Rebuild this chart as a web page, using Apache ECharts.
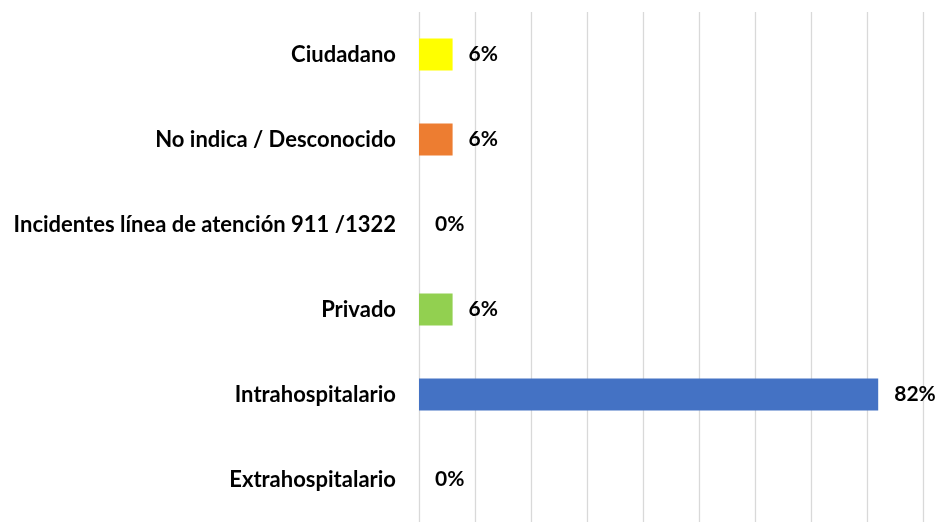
<!DOCTYPE html>
<html>
<head>
<meta charset="utf-8">
<script src="https://cdn.jsdelivr.net/npm/echarts@6/dist/echarts.min.js"></script>
<style>
html,body{margin:0;padding:0;background:#fff;}
#chart{width:940px;height:522px;}
</style>
</head>
<body>
<div id="chart"></div>
<script>
var categories = ["Ciudadano", "No indica / Desconocido", "Incidentes línea de atención 911 /1322", "Privado", "Intrahospitalario", "Extrahospitalario"];
var values = [6, 6, 0, 6, 82, 0];
var barColors = ["#FFFF00", "#ED7D31", "#A5A5A5", "#92D050", "#4472C4", "#5B9BD5"];
var xTicks = { min: 0, max: 90, interval: 10 };

var chart = echarts.init(document.getElementById('chart'));
chart.setOption({
  animation: false,
  backgroundColor: '#ffffff',
  grid: { left: 419, right: 17, top: 12, bottom: -8, containLabel: false },
  xAxis: {
    type: 'value',
    min: xTicks.min, max: xTicks.max, interval: xTicks.interval,
    axisLabel: { show: false },
    axisLine: { show: false },
    axisTick: { show: false },
    splitLine: { show: true, lineStyle: { color: '#d9d9d9', width: 1.3 } }
  },
  yAxis: {
    type: 'category',
    inverse: true,
    data: categories,
    axisLine: { show: false },
    axisTick: { show: false },
    axisLabel: {
      margin: 23,
      color: '#000',
      fontFamily: 'Lato',
      fontWeight: 'bold',
      fontSize: 22
    }
  },
  series: [{
    type: 'bar',
    barWidth: 32,
    data: values.map(function (v, i) {
      return { value: v, itemStyle: { color: barColors[i] } };
    }),
    label: {
      show: true,
      position: 'right',
      distance: 16,
      formatter: '{c}%',
      color: '#000',
      fontFamily: 'Lato',
      fontWeight: 'bold',
      fontSize: 21
    }
  }]
});
</script>
</body>
</html>
